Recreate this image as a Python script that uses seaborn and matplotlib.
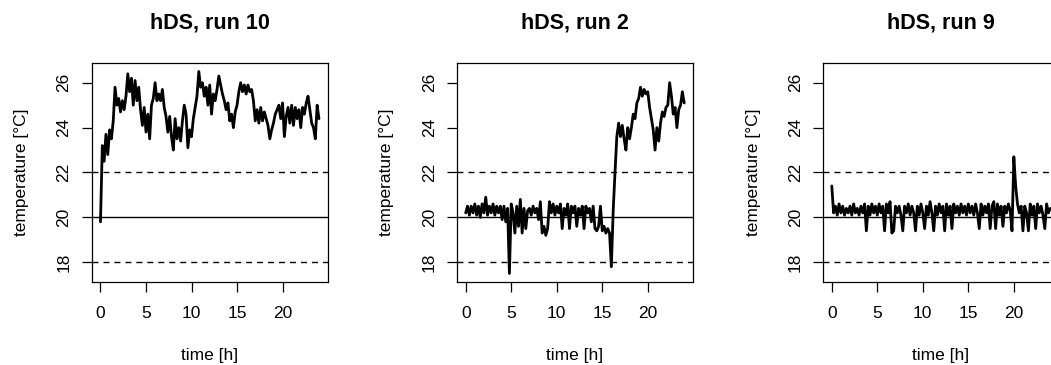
import numpy as np
import pandas as pd
import matplotlib
matplotlib.use("Agg")
import matplotlib.pyplot as plt
import seaborn as sns

# temperatures, one value every 0.2 h (five per hour row)
step_h = 0.2

run10 = [
    19.8, 23.2, 22.5, 23.7, 22.8,
    23.9, 23.5, 24.3, 25.8, 25.0,
    25.3, 24.7, 25.2, 24.8, 25.4,
    26.4, 25.6, 26.2, 25.0, 26.1,
    25.2, 25.8, 24.8, 24.1, 24.9,
    23.8, 24.6, 23.5, 25.0, 25.3,
    26.0, 25.2, 25.5, 25.2, 25.7,
    24.9, 24.5, 23.8, 24.5, 23.6,
    23.0, 24.4, 23.5, 24.0, 23.4,
    24.3, 25.0, 24.6, 23.1, 23.9,
    23.6, 24.4, 24.9, 25.4, 26.5,
    25.8, 26.0, 25.4, 25.8, 25.0,
    25.9, 24.6, 25.5, 25.2, 25.7,
    26.3, 25.9, 25.5, 25.2, 24.8,
    25.1, 24.3, 24.6, 24.0, 24.7,
    25.0, 25.6, 26.0, 25.6, 25.9,
    25.5, 25.9, 25.6, 25.7, 25.2,
    24.3, 24.8, 24.2, 24.9, 24.3,
    24.7, 24.4, 24.1, 23.5, 23.9,
    24.2, 24.6, 24.8, 25.0, 24.4,
    25.1, 23.6, 24.5, 24.9, 24.2,
    25.0, 24.1, 24.9, 24.4, 24.8,
    24.0, 24.9, 24.6, 25.1, 25.4,
    24.8, 24.2, 24.0, 23.5, 25.0,
    24.4,
]

run2 = [
    20.2, 20.5, 20.1, 20.5, 20.2,
    20.6, 20.1, 20.5, 20.0, 20.6,
    20.2, 20.9, 20.1, 20.5, 20.2,
    20.6, 20.1, 20.5, 20.2, 20.5,
    19.9, 20.5, 19.8, 20.4, 17.5,
    20.6, 20.2, 19.3, 20.5, 19.6,
    20.8, 19.3, 20.4, 19.5, 20.3,
    20.4, 20.1, 20.5, 20.2, 20.4,
    19.9, 20.7, 19.3, 19.6, 19.2,
    19.5, 20.7, 20.2, 20.6, 20.1,
    20.5, 20.2, 20.6, 19.5, 20.4,
    20.1, 20.6, 19.5, 20.5, 20.2,
    20.5, 19.6, 20.4, 20.1, 20.5,
    19.5, 20.5, 20.2, 20.4, 19.8,
    20.5, 19.5, 19.4, 19.6, 20.5,
    19.4, 19.6, 19.3, 19.5, 19.3,
    17.8, 20.3, 22.0, 23.6, 24.2,
    23.6, 24.1, 23.5, 23.0, 24.0,
    23.5, 24.0, 24.6, 24.4, 25.1,
    25.3, 25.8, 25.4, 25.7, 25.5,
    25.6, 24.9, 24.4, 23.9, 23.0,
    24.0, 23.4, 24.2, 24.7, 24.5,
    24.9, 25.0, 26.0, 25.4, 24.6,
    24.9, 24.0, 24.8, 25.0, 25.6,
    25.1,
]

run9 = [
    21.4, 20.2, 20.5, 20.1, 20.6,
    20.2, 20.5, 20.1, 20.4, 20.2,
    20.5, 20.1, 20.6, 20.2, 20.4,
    20.1, 20.5, 20.2, 20.6, 19.4,
    20.5, 20.1, 20.6, 20.2, 20.5,
    20.1, 20.6, 20.2, 20.5, 19.4,
    20.6, 20.2, 20.7, 19.3, 19.4,
    20.5, 20.2, 20.5, 20.1, 19.4,
    20.5, 20.2, 20.6, 20.1, 20.5,
    20.2, 19.4, 20.5, 20.1, 20.6,
    20.2, 19.5, 20.5, 20.1, 20.7,
    20.2, 19.4, 20.5, 20.1, 20.6,
    20.2, 20.5, 19.4, 20.6, 20.1,
    20.5, 19.5, 20.6, 20.2, 20.5,
    20.1, 20.6, 20.2, 20.5, 20.1,
    20.6, 20.2, 20.5, 20.1, 20.6,
    20.2, 19.5, 20.6, 20.1, 20.5,
    20.2, 20.6, 19.5, 20.5, 20.7,
    19.5, 20.6, 20.1, 20.5, 19.6,
    20.5, 20.2, 20.6, 20.3, 19.4,
    22.7, 21.4, 20.6, 20.2, 20.5,
    19.4, 20.5, 20.2, 19.4, 20.6,
    20.1, 20.5, 19.5, 20.6, 20.2,
    20.5, 20.1, 19.5, 20.6, 20.2,
    20.4,
]

titles = ["hDS, run 10", "hDS, run 2", "hDS, run 9"]
series = [run10, run2, run9]
limits = [18, 22]
setpoint = 20
xticks = [0, 5, 10, 15, 20]
yticks = [18, 20, 22, 24, 26]

sns.set_theme(style="ticks")
plt.rcParams["font.family"] = ["Liberation Sans", "DejaVu Sans"]
for key in ["text.color", "axes.labelcolor", "xtick.color", "ytick.color", "axes.edgecolor"]:
    plt.rcParams[key] = "black"
plt.rcParams["axes.linewidth"] = 0.9
plt.rcParams["xtick.major.width"] = 0.9
plt.rcParams["ytick.major.width"] = 0.9

fig = plt.figure(figsize=(10.51, 3.65), dpi=100)
lefts = [0.0873, 0.4348, 0.7831]

for left, title, temps in zip(lefts, titles, series):
    ax = fig.add_axes([left, 0.2274, 0.2245, 0.60])
    df = pd.DataFrame({"time": np.arange(len(temps)) * step_h, "temp": temps})
    sns.lineplot(data=df, x="time", y="temp", ax=ax, color="black",
                 lw=2.0, estimator=None, sort=False)
    for y in limits:
        ax.axhline(y, color="black", lw=1.0, ls=(0, (4.3, 3.6)))
    ax.axhline(setpoint, color="black", lw=1.0)

    ax.set_xlim(-0.96, 24.96)
    ax.set_ylim(17.12, 26.88)
    ax.set_xticks(xticks)
    ax.set_yticks(yticks)
    ax.tick_params(length=7, labelsize=12.5)
    ax.tick_params(axis="x", pad=10.5)
    ax.tick_params(axis="y", pad=7.5)
    for lab in ax.get_yticklabels():
        lab.set_rotation(90)
        lab.set_va("center")

    ax.set_title(title, fontsize=15.5, fontweight="bold", pad=25)
    ax.set_xlabel("time [h]", fontsize=12.5)
    ax.set_ylabel("temperature [°C]", fontsize=12.5)
    ax.xaxis.set_label_coords(0.5, -0.30)
    ax.yaxis.set_label_coords(-0.265, 0.5)

fig.savefig("out.png", dpi=100)
